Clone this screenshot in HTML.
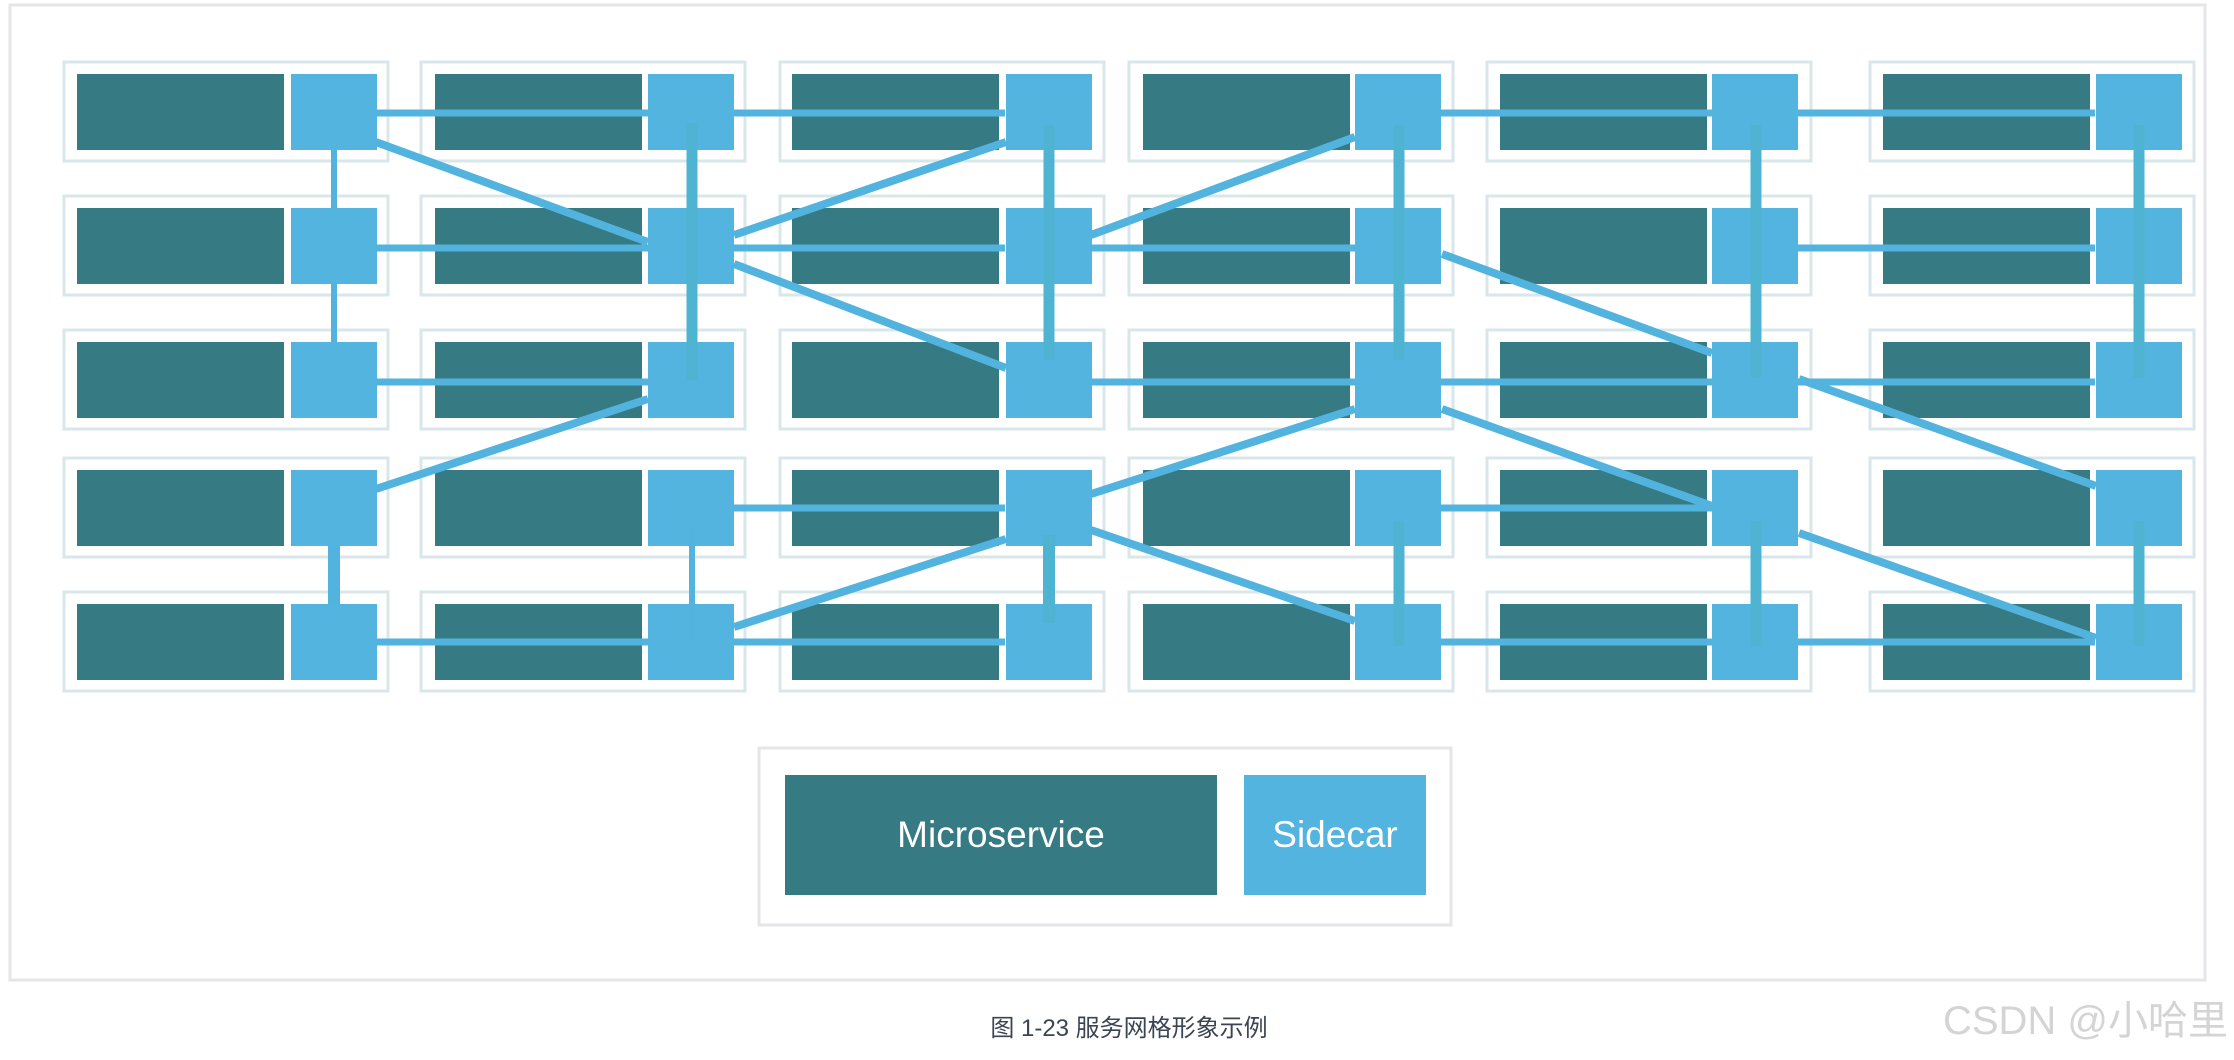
<!DOCTYPE html>
<html><head><meta charset="utf-8"><style>
html,body{margin:0;padding:0;background:#fff;width:2234px;height:1060px;overflow:hidden}
svg{display:block}
</style></head><body>
<svg width="2234" height="1060" viewBox="0 0 2234 1060" xmlns="http://www.w3.org/2000/svg">
<rect x="10" y="5" width="2195" height="975" fill="#fff" stroke="#e4e6e8" stroke-width="3"/>
<g id="grid"></g>
<g id="lines" stroke-linecap="butt"></g>
<rect x="759" y="748" width="692" height="177" fill="#fff" stroke="#e4e6e8" stroke-width="3"/>
<rect x="785" y="775" width="432" height="120" fill="#367a84"/>
<rect x="1244" y="775" width="182" height="120" fill="#53b4df"/>
<text x="1001" y="847" font-family="Liberation Sans, sans-serif" font-size="37" fill="#fff" text-anchor="middle">Microservice</text>
<text x="1335" y="847" font-family="Liberation Sans, sans-serif" font-size="37" fill="#fff" text-anchor="middle">Sidecar</text>
<text x="1129" y="1036" font-family="Liberation Sans, 'Noto Sans CJK SC', sans-serif" font-size="24" fill="#3a4452" text-anchor="middle">图 1-23 服务网格形象示例</text>
<text x="2228" y="1034" font-family="Liberation Sans, 'Noto Sans CJK SC', sans-serif" font-size="40" fill="#d4d4d4" text-anchor="end">CSDN @小哈里</text>
</svg>
<script>
var cols=[[63,77,291],[420,435,648],[779,792,1006],[1128,1143,1355],[1486,1500,1712],[1869,1883,2096]];
var rows=[[61,74],[195,208],[329,342],[457,470],[591,604]];
var g=document.getElementById('grid'),s='';
rows.forEach(function(r){cols.forEach(function(c){
s+='<rect x="'+(c[0]+1)+'" y="'+(r[0]+1)+'" width="324" height="99" fill="#fff" stroke="#d9e7ea" stroke-width="3"/>';
s+='<rect x="'+c[1]+'" y="'+r[1]+'" width="207" height="76" fill="#367a84"/>';
s+='<rect x="'+c[2]+'" y="'+r[1]+'" width="86" height="76" fill="#53b4df"/>';
});});
g.innerHTML=s;
var cx=[333,691,1048,1398,1755,2138], cy=[113,248,382,508,642];
var L='';
function ln(x1,y1,x2,y2,w,c){L+='<line x1="'+x1+'" y1="'+y1+'" x2="'+x2+'" y2="'+y2+'" stroke="'+(c||'#52b4de')+'" stroke-width="'+w+'"/>';}
function H(r,a,b){ln(cx[a]+43,cy[r],cx[b]-43,cy[r],7);}
H(0,0,1);H(0,1,2);H(0,3,4);H(0,4,5);
H(1,0,1);H(1,1,2);H(1,2,3);H(1,4,5);
H(2,0,1);H(2,2,3);H(2,3,4);H(2,4,5);
H(3,1,2);H(3,3,4);
H(4,0,1);H(4,1,2);H(4,3,4);H(4,4,5);
// verticals
ln(334,150,334,208,6);ln(334,284,334,342,6);ln(334,546,334,604,12);
ln(692,123,692,380,11,'#4fb4d2');ln(692,528,692,640,6);
ln(1049,125,1049,360,11,'#4fb4d2');ln(1049,535,1049,623,12,'#4fb4d2');
ln(1399,125,1399,360,11,'#4fb4d2');ln(1399,521,1399,646,11,'#4fb4d2');
ln(1756,125,1756,378,11,'#4fb4d2');ln(1756,521,1756,646,11,'#4fb4d2');
ln(2139,125,2139,378,11,'#4fb4d2');ln(2139,521,2139,646,11,'#4fb4d2');
// diagonals
var D=[[376,142,648,242],[734,235,1006,142],[734,264,1006,368],[648,399,376,489],[1091,235,1355,137],[1442,254,1712,353],[1355,409,1091,494],[1442,409,1712,506],[1006,539,734,627],[1091,530,1355,621],[1799,379,2096,486],[1799,533,2096,638]];
D.forEach(function(d){ln(d[0],d[1],d[2],d[3],8);});
document.getElementById('lines').innerHTML=L;
</script>
</body></html>
